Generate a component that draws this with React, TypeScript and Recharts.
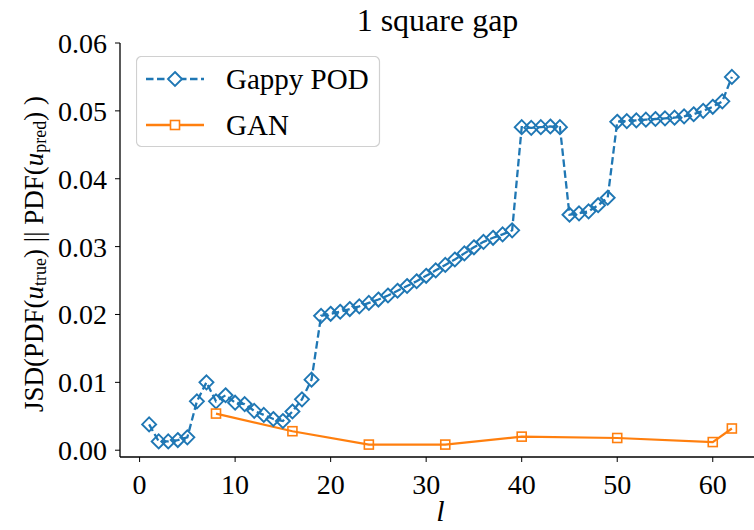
import React from "react";
import {
  LineChart,
  Line,
  XAxis,
  YAxis,
  Legend,
} from "recharts";

// reconstruction error vs. number of retained modes l
const gappyL = Array.from({ length: 62 }, (_, i) => i + 1);
const gappyPod = [
  0.0038, 0.0013, 0.0013, 0.0015, 0.0019, 0.0072, 0.01, 0.0072, 0.0081, 0.007,
  0.0068, 0.0058, 0.0052, 0.0046, 0.0043, 0.0057, 0.0075, 0.0104, 0.0198,
  0.0201, 0.0204, 0.0208, 0.0212, 0.0217, 0.0222, 0.0228, 0.0235, 0.0242,
  0.0249, 0.0257, 0.0265, 0.0273, 0.0281, 0.029, 0.0299, 0.0307, 0.0313,
  0.0318, 0.0324, 0.0476, 0.0475, 0.0476, 0.0477, 0.0476, 0.0347, 0.0349,
  0.0352, 0.0361, 0.0372, 0.0484, 0.0485, 0.0486, 0.0487, 0.0488, 0.0489,
  0.049, 0.0492, 0.0495, 0.05, 0.0506, 0.0514, 0.055,
];
const ganL = [8, 16, 24, 32, 40, 50, 60, 62];
const ganValues = [0.0054, 0.0028, 0.00083, 0.00083, 0.002, 0.0018, 0.0012, 0.0032];

const xTicks = [0, 10, 20, 30, 40, 50, 60];
const yTicks = [0, 0.01, 0.02, 0.03, 0.04, 0.05, 0.06];

const BLUE = "#1f77b4";
const ORANGE = "#ff7f0e";
const FONT = "'Liberation Serif', serif";
const TICK_SIZE = 28;

const table = gappyL.map((l, i) => {
  const g = ganL.indexOf(l);
  return { l, pod: gappyPod[i], gan: g >= 0 ? ganValues[g] : null };
});

const Diamond = (props: any) => {
  const { cx, cy, index } = props;
  if (cx == null || cy == null) return <g key={`pd-${index}`} />;
  const r = 7;
  return (
    <path
      key={`pd-${index}`}
      d={`M${cx},${cy - r}L${cx + r},${cy}L${cx},${cy + r}L${cx - r},${cy}Z`}
      fill="none"
      stroke={BLUE}
      strokeWidth={1.9}
    />
  );
};

const Square = (props: any) => {
  const { cx, cy, index } = props;
  if (cx == null || cy == null) return <g key={`gs-${index}`} />;
  const h = 4.5;
  return (
    <rect
      key={`gs-${index}`}
      x={cx - h}
      y={cy - h}
      width={h * 2}
      height={h * 2}
      fill="none"
      stroke={ORANGE}
      strokeWidth={1.6}
    />
  );
};

const YLabel = () => (
  <text
    transform="rotate(-90, 34, 254)"
    x={34}
    y={254}
    textAnchor="middle"
    dominantBaseline="central"
    style={{ fontFamily: FONT, fontSize: 27 }}
    fill="#000"
  >
    JSD(PDF(
    <tspan fontStyle="italic">u</tspan>
    <tspan fontSize={18} dy={6}>true</tspan>
    <tspan dy={-6}>) || PDF(</tspan>
    <tspan fontStyle="italic">u</tspan>
    <tspan fontSize={18} dy={6}>pred</tspan>
    <tspan dy={-6}>) )</tspan>
  </text>
);

const legendRows = [
  { name: "Gappy POD", color: BLUE, dash: "7.5 3.5", marker: "diamond" },
  { name: "GAN", color: ORANGE, dash: undefined, marker: "square" },
];

const renderLegend = () => (
  <svg width={245} height={92} style={{ display: "block" }}>
    <rect
      x={0.5}
      y={0.5}
      width={243}
      height={90}
      rx={5}
      fill="#fff"
      stroke="#d0d0d0"
      strokeWidth={1.2}
    />
    {legendRows.map((row, i) => {
      const y = 23 + i * 46;
      return (
        <g key={row.name}>
          <line
            x1={10}
            x2={68}
            y1={y}
            y2={y}
            stroke={row.color}
            strokeWidth={2.3}
            strokeDasharray={row.dash}
          />
          {row.marker === "diamond" ? (
            <path
              d={`M39,${y - 7}L46,${y}L39,${y + 7}L32,${y}Z`}
              fill="#fff"
              stroke={row.color}
              strokeWidth={1.9}
            />
          ) : (
            <rect
              x={34.5}
              y={y - 4.5}
              width={9}
              height={9}
              fill="#fff"
              stroke={row.color}
              strokeWidth={1.6}
            />
          )}
          <text
            x={90}
            y={y}
            dominantBaseline="central"
            style={{ fontFamily: FONT, fontSize: 29 }}
            fill="#000"
          >
            {row.name}
          </text>
        </g>
      );
    })}
  </svg>
);

export default function App() {
  return (
    <div
      style={{
        position: "absolute",
        left: 0,
        top: 0,
        width: 754,
        height: 530,
        overflow: "hidden",
        background: "#fff",
        fontFamily: FONT,
      }}
    >
      <div
        style={{
          position: "absolute",
          left: 117,
          width: 641,
          top: 0,
          height: 40,
          lineHeight: "40px",
          textAlign: "center",
          fontSize: 32,
          color: "#000",
        }}
      >
        1 square gap
      </div>
      <LineChart
        width={780}
        height={530}
        data={table}
        margin={{ top: 43, right: 19, bottom: 0, left: 0 }}
      >
        <XAxis
          dataKey="l"
          type="number"
          domain={[-2.05, 65.05]}
          ticks={xTicks}
          allowDataOverflow
          height={73}
          tickSize={5}
          tickMargin={12}
          stroke="#000"
          tick={{ fill: "#000", style: { fontFamily: FONT, fontSize: TICK_SIZE } }}
          axisLine={{ stroke: "#000", strokeWidth: 1.3 }}
          label={{
            value: "l",
            position: "insideBottom",
            offset: 9,
            style: { fontSize: 30, fontFamily: FONT, fontStyle: "italic", fill: "#000" },
          }}
        />
        <XAxis
          xAxisId="top"
          orientation="top"
          dataKey="l"
          type="number"
          domain={[-2.05, 65.05]}
          height={0}
          tick={false}
          tickLine={false}
          axisLine={{ stroke: "#000", strokeWidth: 1.3 }}
        />
        <YAxis
          type="number"
          domain={[-0.001, 0.06]}
          ticks={yTicks}
          allowDataOverflow
          width={120}
          tickSize={5}
          tickMargin={8}
          stroke="#000"
          tickFormatter={(v: number) => v.toFixed(2)}
          tick={{ fill: "#000", style: { fontFamily: FONT, fontSize: TICK_SIZE } }}
          axisLine={{ stroke: "#000", strokeWidth: 1.3 }}
          label={<YLabel />}
        />
        <YAxis
          yAxisId="right"
          orientation="right"
          domain={[-0.001, 0.06]}
          width={0}
          tick={false}
          tickLine={false}
          axisLine={{ stroke: "#000", strokeWidth: 1.3 }}
        />
        <Legend
          layout="horizontal"
          verticalAlign="middle"
          align="center"
          content={renderLegend}
          wrapperStyle={{ left: 136, top: 56, width: 245, height: 92 }}
        />
        <Line
          dataKey="pod"
          name="Gappy POD"
          stroke={BLUE}
          strokeWidth={2.3}
          strokeDasharray="7.5 3.5"
          dot={Diamond}
          activeDot={false}
          isAnimationActive={false}
        />
        <Line
          dataKey="gan"
          name="GAN"
          connectNulls
          stroke={ORANGE}
          strokeWidth={2.2}
          dot={Square}
          activeDot={false}
          isAnimationActive={false}
        />
      </LineChart>
    </div>
  );
}
